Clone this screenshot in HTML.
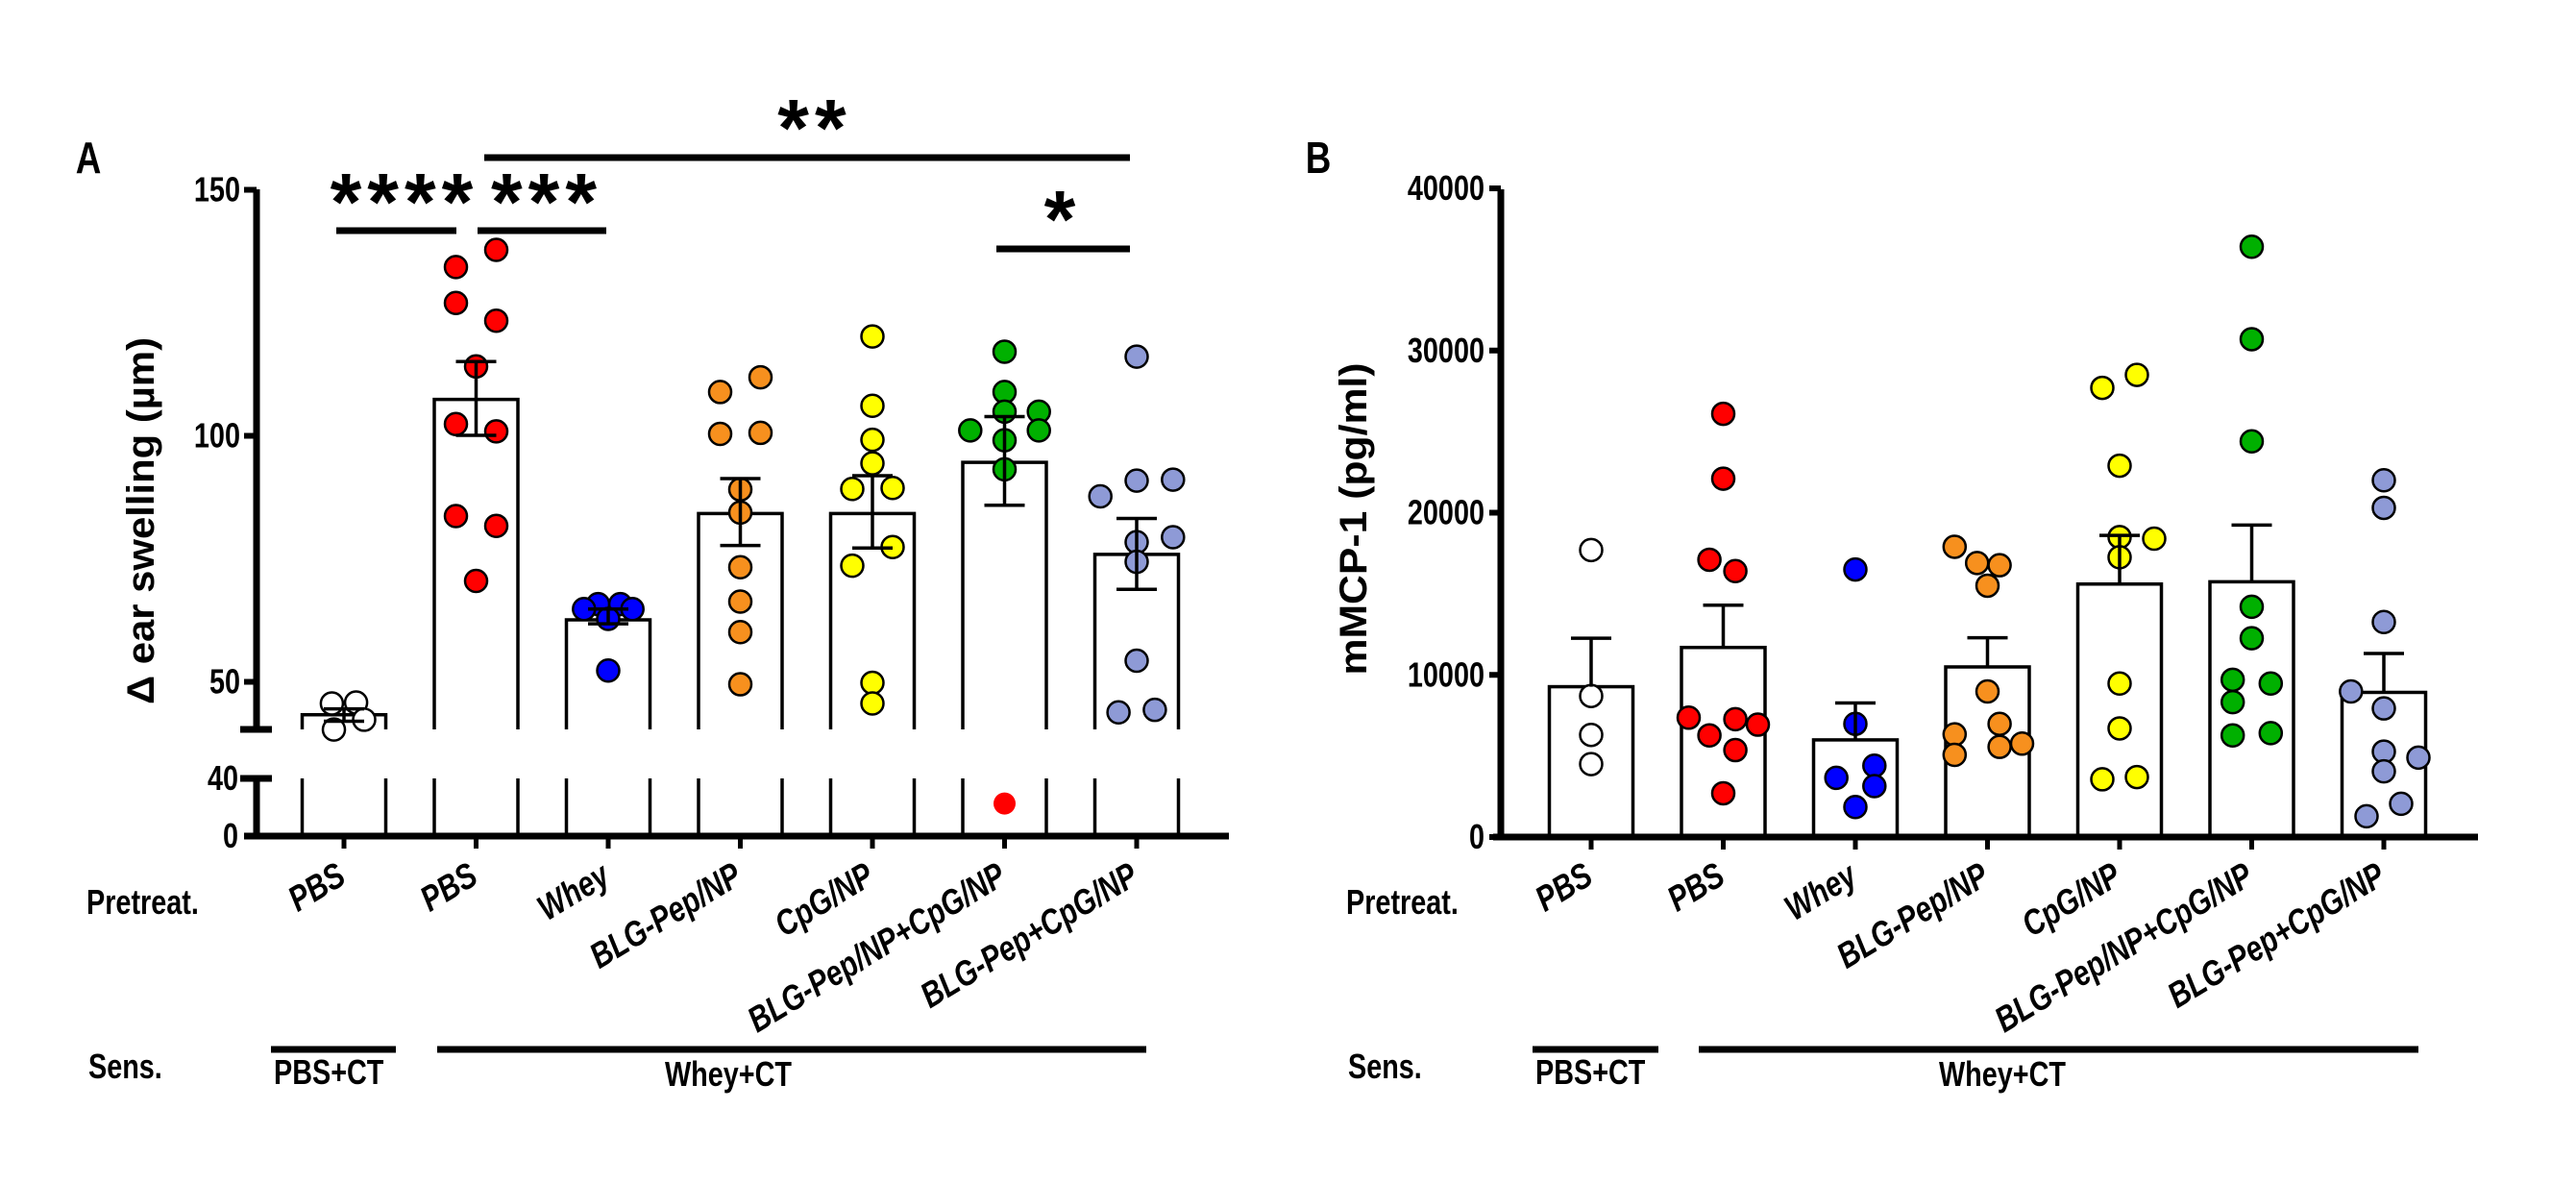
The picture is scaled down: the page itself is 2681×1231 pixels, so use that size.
<!DOCTYPE html>
<html><head><meta charset="utf-8"><style>
body{margin:0;background:#fff}
svg{display:block}
text{font-family:"Liberation Sans",sans-serif;font-weight:bold;fill:#000}
</style></head><body>
<svg id="fig" width="2681" height="1231" viewBox="0 0 2681 1231" xmlns="http://www.w3.org/2000/svg">
<rect width="2681" height="1231" fill="#fff"/>
<g id="gA"></g>
<g id="gB"></g>
</svg>
<script>
const categories=["PBS","PBS","Whey","BLG-Pep/NP","CpG/NP","BLG-Pep/NP+CpG/NP","BLG-Pep+CpG/NP"];
const colors=["#ffffff","#ff0000","#0000ff","#f7901e","#ffff00","#00b000","#8e9ad6"];
// Panel A: ear swelling
const aMeans=[43.3,107.4,62.6,84.2,84.2,94.6,75.9];
const aErrHi=[44.5,115.1,64.8,91.3,91.9,103.9,83.2];
const aErrLo=[42.0,100.1,61.8,77.7,77.2,85.9,68.8];
const aPts=[
 [[-0.6,45.6],[0.6,45.8],[1.0,42.3],[-0.5,40.3]],
 [[-1,134.3],[1,137.8],[-1,127],[1,123.4],[0,114.1],[-1,102.4],[1,100.9],[-1,83.7],[1,81.7],[0,70.5]],
 [[-0.5,65.8],[-1.2,64.8],[0.6,65.8],[1.2,64.8],[0,62.8],[0,52.3]],
 [[-1,108.9],[1,111.9],[-1,100.4],[1,100.6],[0,89.1],[0,84.4],[0,73.3],[0,66.3],[0,60.1],[0,49.5]],
 [[0,120.2],[0,106.1],[0,99.2],[0,94.4],[-1,89.2],[1,89.4],[1,77.4],[-1,73.6],[0,49.8],[0,45.6]],
 [[0,117.1],[0,108.9],[0,104.9],[1.7,104.9],[-1.7,101.1],[1.7,101.1],[0,99.1],[0,93.2]],
 [[0,116.1],[0,90.9],[1.8,91.1],[-1.8,87.7],[1.8,79.4],[0,78.4],[0,74.4],[0,54.3],[-0.9,43.8],[0.9,44.3]]
];
const aLowPts=[[5,0,22.6]];
const aTicks=[50,100,150];
const aLowTicks=[0,40];
// Panel B: mMCP-1
const bMeans=[9270,11690,5990,10490,15600,15740,8920];
const bErr=[12260,14300,8270,12290,18600,19240,11320];
const bPts=[
 [[0,17700],[0,8700],[0,6300],[0,4500]],
 [[0,26100],[0,22100],[-0.8,17100],[0.7,16400],[-2,7360],[0.7,7270],[2,6930],[-0.8,6270],[0.7,5360],[0,2700]],
 [[0,16500],[0,6980],[-1.1,3650],[1.1,4400],[1.1,3140],[0,1850]],
 [[-1.9,17900],[-0.6,16900],[0.7,16760],[0,15500],[0,8980],[0.7,6980],[-1.9,6330],[-1.9,5070],[0.7,5560],[2,5760]],
 [[-1,27700],[1,28500],[0,22900],[0,18500],[2,18400],[0,17250],[0,9470],[0,6700],[-1,3560],[1,3700]],
 [[0,36400],[0,30700],[0,24400],[0,14200],[0,12260],[-1.1,9700],[1.1,9470],[-1.1,8320],[-1.1,6270],[1.1,6410]],
 [[0,22000],[0,20300],[0,13260],[-1.9,8980],[0,7930],[0,5270],[2,4900],[0,4050],[1,2050],[-1,1280]]
];
const bTicks=[0,10000,20000,30000,40000];

const NS="http://www.w3.org/2000/svg";
function el(p,t,a,txt){const e=document.createElementNS(NS,t);for(const k in a)e.setAttribute(k,a[k]);if(txt!==undefined)e.textContent=txt;p.appendChild(e);return e;}
const narrowList=[];
const gA=document.getElementById('gA'),gB=document.getElementById('gB');

const xA=i=>358+i*137.5;
const yA=v=>709.5-(v-50)*5.12;
const yL=v=>870-v*1.5;
const xB=i=>1656+i*137.5;
const yB=v=>871-v*0.016875;
const R=11.5,BW=87;

// ---- Panel A ----
let t=el(gA,'text',{x:92,y:180,'font-size':46,'text-anchor':'middle'},'A');

narrowList.push(t);
t=el(gA,'text',{x:0,y:0,'font-size':40,'text-anchor':'middle',transform:'translate(160,542) rotate(-90)',textLength:382,lengthAdjust:'spacingAndGlyphs'},'Δ ear swelling (µm)');

categories.forEach((c,i)=>{
 const x=xA(i),top=yA(aMeans[i]);
 const f=el(gA,'rect',{x:x-BW/2,y:top,width:BW,height:759-top,fill:'#fff'});
 
 const b=el(gA,'path',{d:`M${x-BW/2},759 V${top} H${x+BW/2} V759 M${x-BW/2},810 V870 M${x+BW/2},810 V870`,fill:'none',stroke:'#000','stroke-width':3.5});
 
});
aPts.forEach((pts,i)=>pts.forEach(p=>{
 const c=el(gA,'circle',{cx:xA(i)+p[0]*21,cy:yA(p[1]),r:R,fill:colors[i],stroke:'#000','stroke-width':2.5});
 
}));
aLowPts.forEach(p=>{
 const c=el(gA,'circle',{cx:xA(p[0])+p[1]*21,cy:yL(p[2]),r:R,fill:'#ff0000'});
 
});
categories.forEach((c,i)=>{
 const x=xA(i),hi=yA(aErrHi[i]),lo=yA(aErrLo[i]);
 const e=el(gA,'path',{d:`M${x},${hi} V${lo} M${x-21},${hi} H${x+21} M${x-21},${lo} H${x+21}`,stroke:'#000','stroke-width':3.5,fill:'none'});
 
});
let ax=el(gA,'path',{d:`M267,197 V759 M250,759 H283 M267,810 V873 M250,810 H283 M254,870 H1279`,stroke:'#000','stroke-width':7,fill:'none'});

aTicks.forEach(v=>{
 const tk=el(gA,'line',{x1:254,x2:267,y1:yA(v),y2:yA(v),stroke:'#000','stroke-width':6});
 
 const l=el(gA,'text',{x:250,y:yA(v)+12,'font-size':36,'text-anchor':'end'},String(v));
 
 narrowList.push(l);
});
aLowTicks.forEach(v=>{
 const l=el(gA,'text',{x:248,y:yL(v)+12,'font-size':36,'text-anchor':'end'},String(v));
 
 narrowList.push(l);
});
categories.forEach((c,i)=>{
 const tk=el(gA,'line',{x1:xA(i),x2:xA(i),y1:870,y2:883,stroke:'#000','stroke-width':5});
 
});
const sig=[[504,1176,164,'**',848,162],[350,475,240,'****',421,239],[497,631,240,'***',569,239],[1037,1176,259,'*',1106,257]];
sig.forEach(s=>{
 const l=el(gA,'line',{x1:s[0],x2:s[1],y1:s[2],y2:s[2],stroke:'#000','stroke-width':7});
 
 const tt=el(gA,'text',{x:s[4],y:s[5],'font-size':84,'text-anchor':'middle','letter-spacing':6},s[3]);
 
});

// ---- Panel B ----
t=el(gB,'text',{x:1372,y:180,'font-size':46,'text-anchor':'middle'},'B');

narrowList.push(t);
t=el(gB,'text',{x:0,y:0,'font-size':40,'text-anchor':'middle',transform:'translate(1422,540) rotate(-90)',textLength:325,lengthAdjust:'spacingAndGlyphs'},'mMCP-1 (pg/ml)');

categories.forEach((c,i)=>{
 const x=xB(i),top=yB(bMeans[i]);
 const b=el(gB,'rect',{x:x-BW/2,y:top,width:BW,height:871-top,fill:'#fff',stroke:'#000','stroke-width':3.5});
 
});
bPts.forEach((pts,i)=>pts.forEach(p=>{
 const c=el(gB,'circle',{cx:xB(i)+p[0]*18,cy:yB(p[1]),r:R,fill:colors[i],stroke:'#000','stroke-width':2.5});
 
}));
categories.forEach((c,i)=>{
 const x=xB(i),hi=yB(bErr[i]),m=yB(bMeans[i]);
 const e=el(gB,'path',{d:`M${x},${m} V${hi} M${x-21},${hi} H${x+21}`,stroke:'#000','stroke-width':3.5,fill:'none'});
 
});
ax=el(gB,'path',{d:`M1562,197 V874 M1554,871 H2579`,stroke:'#000','stroke-width':7,fill:'none'});

bTicks.forEach(v=>{
 const tk=el(gB,'line',{x1:1550,x2:1562,y1:yB(v),y2:yB(v),stroke:'#000','stroke-width':6});
 
 const l=el(gB,'text',{x:1545,y:yB(v)+12,'font-size':36,'text-anchor':'end'},String(v));
 
 narrowList.push(l);
});
categories.forEach((c,i)=>{
 const tk=el(gB,'line',{x1:xB(i),x2:xB(i),y1:871,y2:884,stroke:'#000','stroke-width':5});
 
});

function labels(g,xf,off,pcts){
 let l=el(g,'text',{x:off,y:951,'font-size':36},'Pretreat.');
 
 narrowList.push(l);
 categories.forEach((c,i)=>{
  const x=xf(i)+4;
  const tt=el(g,'text',{x:x,y:918,'font-size':37,'font-style':'italic','text-anchor':'end',transform:`rotate(-31 ${x} 918)`},c);
  
  narrowList.push(tt);
 });
 l=el(g,'text',{x:off+2,y:1122,'font-size':36},'Sens.');
 
 narrowList.push(l);
 let ln=el(g,'line',{x1:pcts[0],x2:pcts[1],y1:1092,y2:1092,stroke:'#000','stroke-width':7});
 
 ln=el(g,'line',{x1:pcts[2],x2:pcts[3],y1:1092,y2:1092,stroke:'#000','stroke-width':7});
 
 l=el(g,'text',{x:pcts[0]+3,y:1128,'font-size':36},'PBS+CT');
 
 narrowList.push(l);
 l=el(g,'text',{x:pcts[4],y:1130,'font-size':36,'text-anchor':'middle'},'Whey+CT');
 
 narrowList.push(l);
}
labels(gA,xA,90,[282,412,455,1193,758]);
labels(gB,xB,1401,[1595,1726,1768,2517,2084]);

// condense text to mimic the narrow font
narrowList.forEach(n=>{
 const w=n.getComputedTextLength();
 n.setAttribute('textLength',(w*0.8).toFixed(1));
 n.setAttribute('lengthAdjust','spacingAndGlyphs');
});
</script>
</body></html>
